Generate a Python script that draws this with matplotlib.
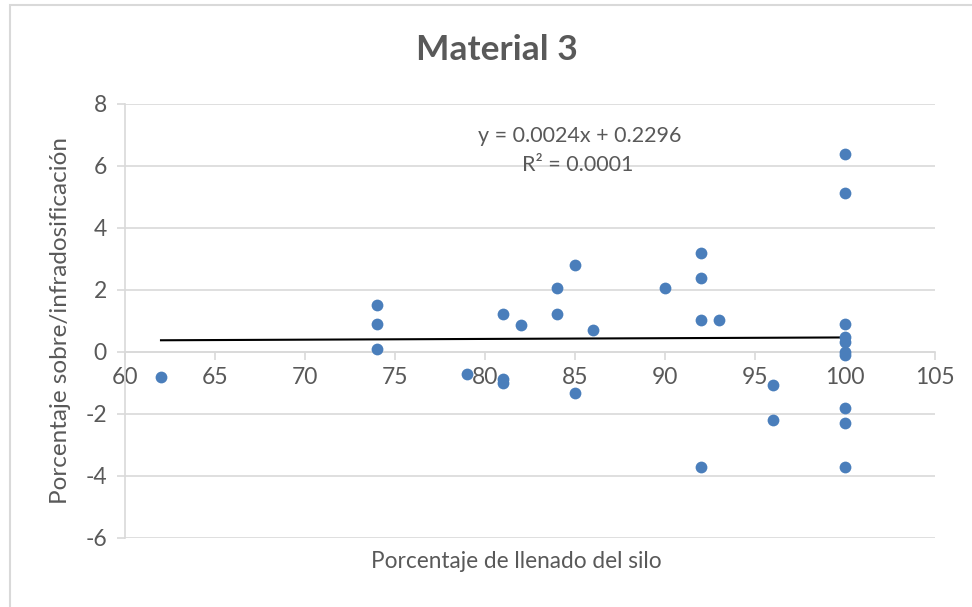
import numpy as np
import matplotlib
matplotlib.use("Agg")
import matplotlib.pyplot as plt
from matplotlib.patches import Rectangle

plt.rcParams['font.family'] = ['Lato', 'DejaVu Sans']
plt.rcParams['axes.unicode_minus'] = False

# llenado del silo (%) y sobre/infradosificacion (%)
llenado = [62, 74, 74, 74, 79, 81, 81, 81, 82, 84, 84, 85, 85, 86, 90,
           92, 92, 92, 92, 93, 96, 96,
           100, 100, 100, 100, 100, 100, 100, 100, 100, 100]
dosif = [-0.8, 1.51, 0.91, 0.1, -0.71, 1.22, -0.87, -0.99, 0.88, 2.07, 1.22, 2.8, -1.31, 0.71, 2.07,
         3.2, 2.38, 1.02, -3.7, 1.02, -1.05, -2.2,
         6.4, 5.12, 0.91, 0.47, 0.31, 0.01, -0.1, -1.8, -2.3, -3.7]

pendiente = 0.0024
ordenada = 0.2296
r2 = 0.0001

gris = '#595959'
linea = '#d9d9d9'

fig = plt.figure(figsize=(9.72, 6.07), dpi=100)
ax = fig.add_axes([125/972, 1 - 538/607, 810/972, 434/607])

ax.scatter(llenado, dosif, s=72, c='#4a7ebb', zorder=3, linewidths=0)

xs = np.array([min(llenado), max(llenado)])
ax.plot(xs, pendiente * xs + ordenada, color='black', lw=1.5, zorder=2)

ax.set_xlim(60, 105)
ax.set_ylim(-6, 8)
ax.set_xticks(np.arange(60, 106, 5))
ax.set_yticks(np.arange(-6, 9, 2))
ax.yaxis.grid(True, color=linea, lw=1.2)
ax.set_axisbelow(True)

for s in ['top', 'right']:
    ax.spines[s].set_visible(False)
ax.spines['bottom'].set_position(('data', 0))
ax.spines['bottom'].set_color(linea)
ax.spines['bottom'].set_linewidth(1.2)
ax.spines['left'].set_color(linea)
ax.spines['left'].set_linewidth(1.2)
ax.tick_params(axis='both', colors=linea, labelcolor=gris, labelsize=16.5, length=6, width=1.2)
ax.tick_params(axis='x', pad=5)
ax.tick_params(axis='y', pad=7)

ax.set_ylabel('Porcentaje sobre/infradosificación', fontsize=17.5, color=gris, labelpad=10)
fig.text(516/972, 1 - 562/607, 'Porcentaje de llenado del silo', fontsize=16.3,
         color=gris, ha='center', va='center')
fig.text(497/972, 1 - 50/607, 'Material 3', fontsize=25.5, fontweight='bold',
         color=gris, ha='center', va='center')

fig.text(580/972, 1 - 136/607, f'y = {pendiente}x + {ordenada}', fontsize=15.5,
         color=gris, ha='center', va='center')
fig.text(578/972, 1 - 165/607, f'R² = {r2:.4f}', fontsize=15.5,
         color=gris, ha='center', va='center')

fig.patches.append(Rectangle((10/972, -0.1), 1.2, 1 - 5/607 + 0.1, transform=fig.transFigure,
                             fill=False, edgecolor=linea, lw=1.5))

fig.savefig('out.png', dpi=100)
